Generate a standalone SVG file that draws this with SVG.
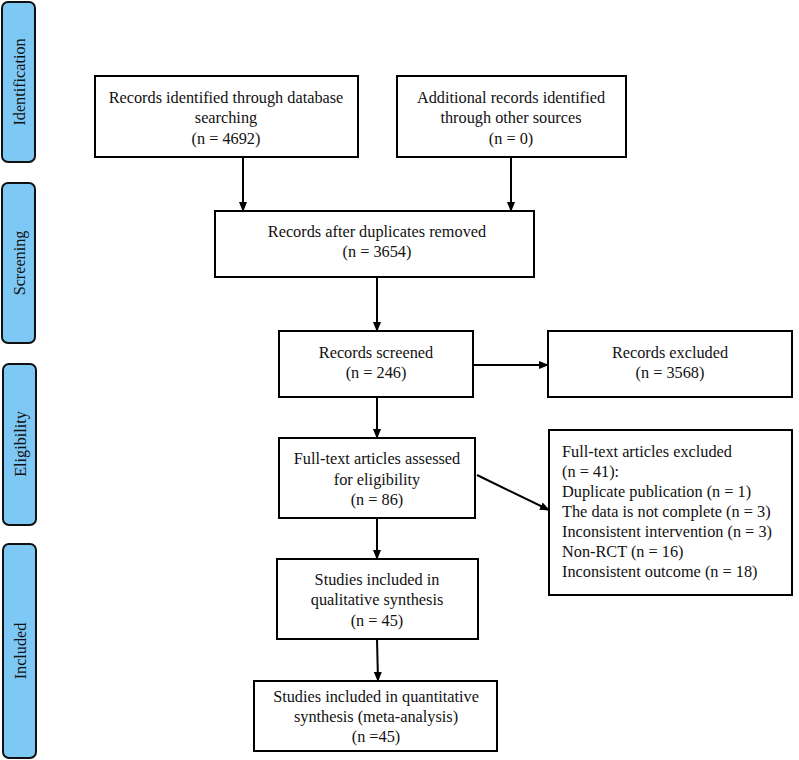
<svg xmlns="http://www.w3.org/2000/svg" width="799" height="760" viewBox="0 0 799 760">
<defs>
<marker id="ah" markerWidth="10" markerHeight="10" refX="9" refY="5" orient="auto" markerUnits="userSpaceOnUse">
<path d="M0,1 L10,5 L0,9 Z" fill="#000"/>
</marker>
<style>
.box{fill:#fff;stroke:#000;stroke-width:2}
.bar{fill:#7ec8f5;stroke:#111;stroke-width:2}
.t{font-family:"Liberation Serif","Times New Roman",serif;font-size:16.3px;fill:#111}
.c{text-anchor:middle}
.s{font-family:"Liberation Serif","Times New Roman",serif;font-size:16.2px;fill:#111;text-anchor:middle}
.ln{stroke:#000;stroke-width:2;fill:none;marker-end:url(#ah)}
</style>
</defs>
<rect width="799" height="760" fill="#fff"/>
<g id="bar-identification"><rect class="bar" x="2" y="2" width="33" height="160" rx="6"/><text class="s" transform="translate(25,82) rotate(-90)">Identification</text></g>
<g id="bar-screening"><rect class="bar" x="2" y="183" width="33" height="160" rx="6"/><text class="s" transform="translate(25,263) rotate(-90)">Screening</text></g>
<g id="bar-eligibility"><rect class="bar" x="3" y="364" width="33" height="161" rx="6"/><text class="s" transform="translate(26,444) rotate(-90)">Eligibility</text></g>
<g id="bar-included"><rect class="bar" x="3" y="544" width="33" height="214" rx="6"/><text class="s" transform="translate(26,651) rotate(-90)">Included</text></g>

<g id="n1"><rect class="box" x="95" y="76" width="263" height="81"/>
<text class="t c" x="226" y="103">Records identified through database</text>
<text class="t c" x="226" y="123">searching</text>
<text class="t c" x="226" y="144">(n = 4692)</text></g>
<g id="n2"><rect class="box" x="397" y="76" width="229" height="81"/>
<text class="t c" x="511" y="103">Additional records identified</text>
<text class="t c" x="511" y="123">through other sources</text>
<text class="t c" x="511" y="144">(n = 0)</text></g>
<g id="n3"><rect class="box" x="215" y="211" width="319" height="66"/>
<text class="t c" x="377" y="237">Records after duplicates removed</text>
<text class="t c" x="377" y="257">(n = 3654)</text></g>
<g id="n4"><rect class="box" x="279" y="331" width="194" height="66"/>
<text class="t c" x="376" y="358">Records screened</text>
<text class="t c" x="376" y="378">(n = 246)</text></g>
<g id="n5"><rect class="box" x="548" y="331" width="244" height="66"/>
<text class="t c" x="670" y="358">Records excluded</text>
<text class="t c" x="670" y="378">(n = 3568)</text></g>
<g id="n6"><rect class="box" x="279" y="438" width="196" height="80"/>
<text class="t c" x="377" y="464">Full-text articles assessed</text>
<text class="t c" x="377" y="485">for eligibility</text>
<text class="t c" x="377" y="505">(n = 86)</text></g>
<g id="n7"><rect class="box" x="549" y="430" width="243" height="165"/>
<text class="t" x="562" y="457">Full-text articles excluded</text>
<text class="t" x="562" y="477">(n = 41):</text>
<text class="t" x="562" y="497">Duplicate publication (n = 1)</text>
<text class="t" x="562" y="517">The data is not complete (n = 3)</text>
<text class="t" x="562" y="537">Inconsistent intervention (n = 3)</text>
<text class="t" x="562" y="557">Non-RCT (n = 16)</text>
<text class="t" x="562" y="577">Inconsistent outcome (n = 18)</text></g>
<g id="n8"><rect class="box" x="277" y="559" width="201" height="80"/>
<text class="t c" x="377" y="585">Studies included in</text>
<text class="t c" x="377" y="605">qualitative synthesis</text>
<text class="t c" x="377" y="626">(n = 45)</text></g>
<g id="n9"><rect class="box" x="254" y="681" width="243" height="70"/>
<text class="t c" x="376" y="702">Studies included in quantitative</text>
<text class="t c" x="376" y="722">synthesis (meta-analysis)</text>
<text class="t c" x="376" y="742">(n =45)</text></g>

<g id="connectors">
<line class="ln" x1="243" y1="157" x2="243" y2="211"/>
<line class="ln" x1="511" y1="157" x2="511" y2="211"/>
<line class="ln" x1="377" y1="277" x2="377" y2="331"/>
<line class="ln" x1="473" y1="365" x2="548" y2="365"/>
<line class="ln" x1="377" y1="397" x2="377" y2="438"/>
<line class="ln" x1="477" y1="475" x2="549" y2="510"/>
<line class="ln" x1="377" y1="518" x2="377" y2="559"/>
<line class="ln" x1="377" y1="639" x2="378" y2="681"/>
</g>
</svg>
